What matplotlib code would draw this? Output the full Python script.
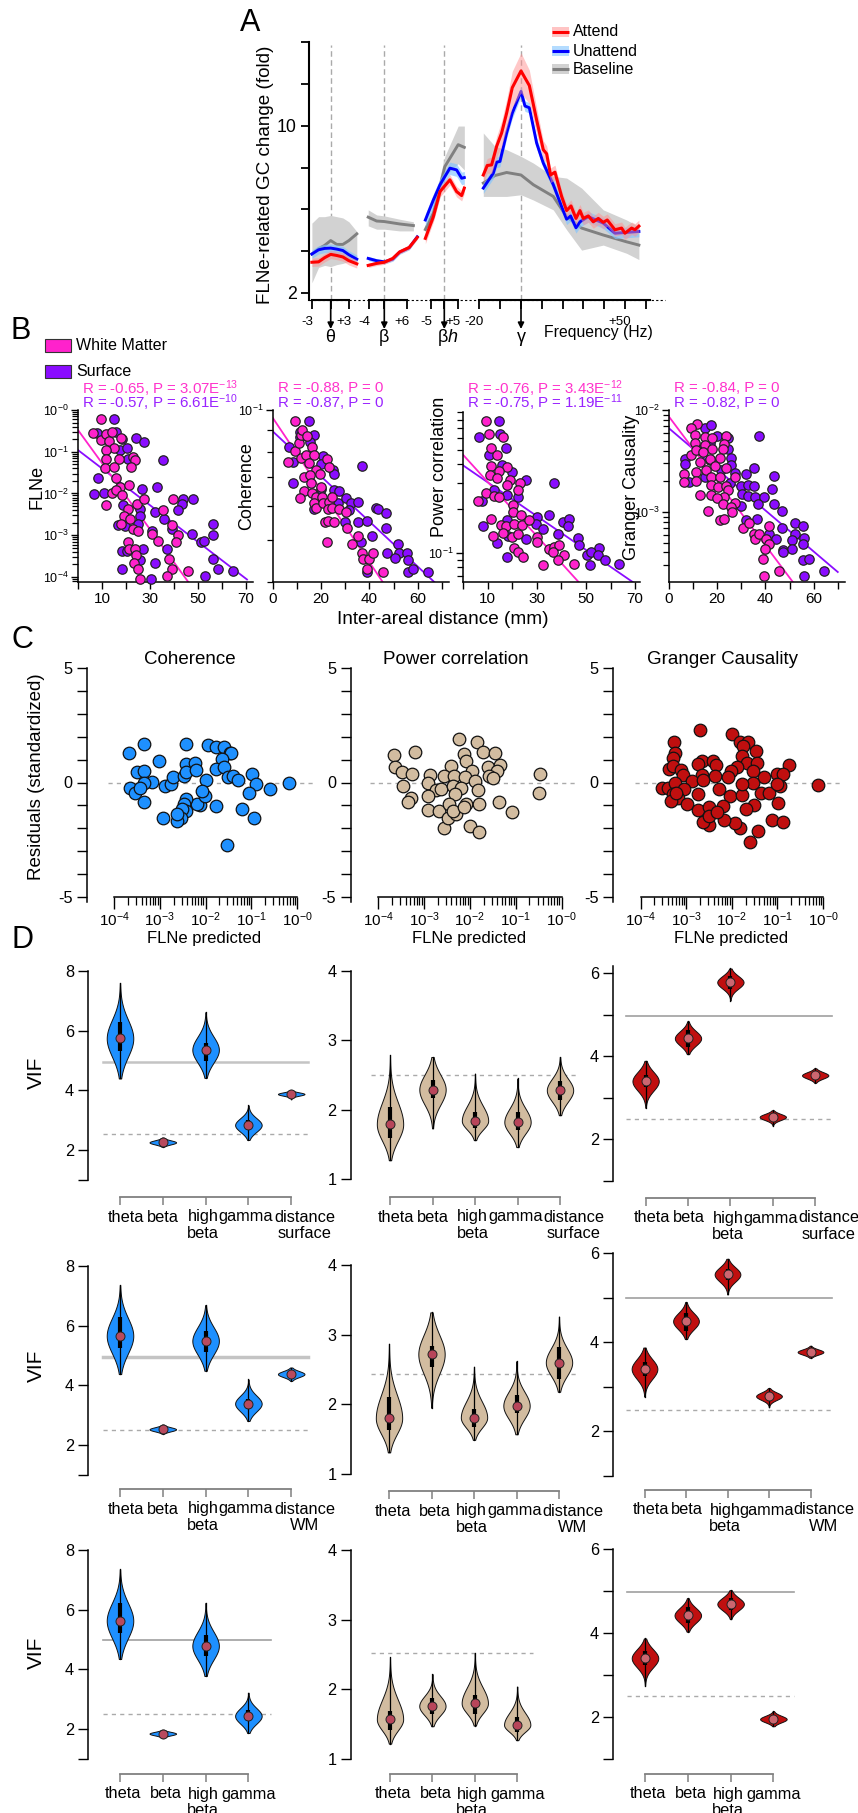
import numpy as np
import matplotlib
matplotlib.use('Agg')
import matplotlib.pyplot as plt
from matplotlib.patches import Rectangle
from matplotlib.transforms import ScaledTranslation

plt.rcParams['font.family'] = ['Liberation Sans', 'DejaVu Sans']
plt.rcParams['mathtext.fontset'] = 'custom'
plt.rcParams['mathtext.rm'] = 'Liberation Sans'
plt.rcParams['mathtext.it'] = 'Liberation Sans:italic'
plt.rcParams['mathtext.bf'] = 'Liberation Sans:bold'
plt.rcParams['mathtext.default'] = 'regular'

W, H = 858, 1813
DPI = 100
PT = 72 / DPI

# ---------- Panel A data ----------
theta_hz = [-3.1, -2, -1, 0, 1, 2, 3, 4.3]
theta_att = [2.68, 2.69, 2.80, 2.89, 2.86, 2.82, 2.72, 2.64]
theta_una = [2.90, 3.02, 3.06, 3.07, 3.04, 3.00, 2.88, 2.76]
theta_base = [2.90, 3.05, 3.15, 3.30, 3.18, 3.18, 3.30, 3.52]
theta_base_lo = [2.20, 2.55, 2.60, 2.57, 2.62, 2.65, 2.70, 2.75]
theta_base_hi = [3.90, 4.15, 4.15, 4.20, 4.15, 4.10, 3.95, 3.60]

beta_hz = [-4.2, -2, 0, 2.2, 4, 6.5, 8.6]
beta_att = [2.60, 2.65, 2.68, 2.78, 2.96, 3.09, 3.40]
beta_una = [2.78, 2.72, 2.69, 2.76, 2.95, 3.08, 3.42]
beta_base_hz = [-4.2, -2, 0, 4, 7.6]
beta_base = [4.13, 3.98, 3.96, 3.87, 3.81]
beta_base_lo = [3.80, 3.68, 3.68, 3.62, 3.62]
beta_base_hi = [4.43, 4.22, 4.18, 4.05, 3.95]

bh_hz = [-7.1, -4.1, -1.6, 2.1, 4.6, 6.5, 7.5]
bh_att = [3.37, 4.15, 5.28, 5.91, 5.28, 5.08, 5.46]
bh_una = [4.02, 4.87, 5.64, 6.61, 6.50, 6.00, 6.04]
bh_base_hz = [-7.1, -4.1, -1.6, 0.2, 5.2, 7.5]
bh_base = [3.67, 4.29, 5.54, 6.71, 8.28, 8.07]
bh_base_lo = [3.50, 4.00, 5.00, 6.10, 6.90, 6.50]
bh_base_hi = [3.85, 4.60, 6.10, 7.40, 9.90, 9.90]

gam_att_hz = [-18.1, -16.2, -14.1, -11.7, -9.3, -6.9, -4.2, 0, 4, 7.5, 10.7, 12.3, 14.2, 16.3, 19.5, 21.9,
              24, 26.4, 28.3, 29.9, 32.3, 34.7, 37.1, 39.5, 41.4, 45.1, 48.3, 49.9, 53.1, 54.7, 56.6]
gam_att = [6.19, 6.78, 6.82, 8.15, 9.26, 11.2, 14.3, 16.8, 14.6, 10.5, 7.89, 7.59, 6.19, 6.36, 5.04, 4.40,
           4.60, 4.08, 4.40, 4.08, 4.18, 3.95, 4.08, 3.93, 4.02, 3.66, 3.72, 3.54, 3.72, 3.66, 3.79]
gam_att_err = [.07, .07, .08, .10, .12, .14, .17, .19, .16, .12, .09, .08, .07, .07, .06, .06,
               .06, .06, .06, .06, .06, .06, .06, .06, .06, .06, .06, .06, .06, .06, .06]
gam_una_hz = [-18.1, -13.3, -11.7, -10.1, -6.9, -4.2, 0, 1.9, 4, 7.5, 10.7, 15.5, 19.5, 21.9, 23.8, 26.4,
              28.3, 32.3, 39.5, 45.1, 56.6]
gam_una = [5.46, 6.30, 7.00, 7.05, 9.26, 11.2, 13.8, 12.0, 11.8, 8.41, 6.94, 5.64, 4.57, 4.05, 4.18, 3.73,
           3.95, 4.15, 3.90, 3.54, 3.60]
gam_base_hz = [-18.1, -12.5, -6.9, 0, 5.9, 15.5, 21.9, 29.1, 39.5, 50.7, 56.6]
gam_base = [5.73, 6.16, 6.34, 6.19, 5.64, 5.04, 4.15, 3.72, 3.48, 3.26, 3.16]
gam_base_hi = [9.26, 8.15, 7.89, 7.40, 6.94, 6.11, 6.01, 5.46, 4.43, 4.02, 3.77]
gam_base_lo = [5.04, 5.04, 5.04, 5.12, 4.87, 4.43, 3.66, 3.01, 3.16, 2.92, 2.75]

# ---------- Panel B data ----------
wm_flne_x = [9.6, 6.1, 9.6, 11.7, 13, 14, 17.8, 15, 11.7, 11.7, 11.4, 17.2, 15.1, 22.8, 23.6, 22.1, 15.8, 17.5, 21.1, 14,
             16, 18.5, 11.5, 24.7, 27.5, 21, 19.3, 21.7, 17.8, 23, 25.1, 35.6, 39.7, 39.4, 41.8, 40.7, 31, 33.2, 21, 21.1,
             23.8, 24.2, 23.3, 25.1, 37.9, 39.3, 37.2, 46, 26]
wm_flne_y = [-.22, -.56, -.72, -.58, -.74, -.52, -.68, -.9, -.96, -1.18, -1.38, -1.18, -1.36, -1.12, -1.2, -1.36, -1.62, -1.84, -1.8, -1.98,
             -1.92, -2.04, -2.28, -2.24, -2.14, -2.36, -2.53, -2.6, -2.74, -2.86, -2.9, -2.4, -2.14, -2.75, -3.0, -3.16, -2.98, -3.14, -3.16, -3.34,
             -3.34, -3.48, -3.66, -3.8, -3.58, -3.82, -3.98, -3.86, -4.04]
sf_flne_x = [15.1, 8, 15.8, 18.2, 17.5, 20.3, 24.4, 27.5, 21, 35.6, 8.5, 6.7, 11, 26.7, 32.9, 43.9, 43.2, 47.8, 41.7, 32.1,
             36, 18.6, 25.8, 25.8, 25.1, 19.6, 16.8, 39.4, 30.7, 47.4, 56.5, 56.4, 51.2, 52.6, 37.2, 27.2, 18.2, 20.3, 32.2, 25.8,
             18.2, 56.5, 58.6, 52.8, 64.6, 30.3]
sf_flne_y = [-.22, -.54, -.52, -.7, -.96, -.9, -.67, -.77, -1.18, -1.2, -1.62, -2.02, -1.98, -1.9, -1.84, -2.14, -2.25, -2.14, -2.4, -2.44,
             -2.6, -2.28, -2.36, -2.53, -2.72, -2.77, -2.76, -2.86, -2.9, -2.98, -2.74, -3, -3.16, -3.14, -3.34, -3.34, -3.38, -3.38, -3.66, -3.6,
             -3.8, -3.58, -3.82, -3.98, -3.86, -4.04]
flne_line_x = [[0, 46], [0, 70.5]]
flne_line_y = [[-.48, -4.12], [-.96, -4.06]]

wm_coh_x = [9.2, 6.1, 9.0, 10.6, 11.7, 12.1, 14.1, 16.3, 11.7, 13.8, 16.8, 14.8, 22.5, 23.4, 17.9, 19.3, 12.8, 15.2, 15.6, 12.7,
            11.4, 16.1, 20, 17.9, 20.3, 17.2, 17.7, 20.7, 23.4, 24.4, 22.8, 24.4, 27.2, 30.3, 21.4, 23, 25.5, 30.8, 22.5, 32.8,
            35.2, 37, 37.2, 40, 41.4, 38.9, 45.5]
wm_coh_y = [-1.026, -1.121, -1.094, -1.077, -1.058, -1.046, -1.060, -1.085, -1.112, -1.104, -1.104, -1.122, -1.114, -1.131, -1.138, -1.147,
            -1.155, -1.151, -1.170, -1.187, -1.203, -1.193, -1.178, -1.201, -1.201, -1.216, -1.226, -1.216, -1.213, -1.202, -1.230, -1.226,
            -1.230, -1.237, -1.258, -1.257, -1.260, -1.274, -1.305, -1.309, -1.292, -1.330, -1.345, -1.344, -1.330, -1.369, -1.375]
sf_coh_x = [14.8, 6.5, 17.2, 11, 11, 15.2, 8.3, 20.7, 20, 24.8, 25.5, 37, 8.3, 20, 25.2, 27.3, 26.9, 30.3, 32.4, 35.2,
            31.7, 17.2, 42.8, 43.4, 46.9, 29.9, 35.4, 39, 46.9, 41, 36.6, 52, 47.3, 52.1, 55.6, 50.8, 56, 38.9, 55.9, 58.2, 64.1]
sf_coh_y = [-1.026, -1.085, -1.058, -1.063, -1.050, -1.075, -1.121, -1.107, -1.124, -1.139, -1.147, -1.130, -1.170, -1.182, -1.185, -1.188,
            -1.216, -1.203, -1.216, -1.214, -1.232, -1.228, -1.226, -1.230, -1.238, -1.260, -1.258, -1.257, -1.274, -1.292, -1.305, -1.309,
            -1.332, -1.330, -1.330, -1.342, -1.346, -1.375, -1.375, -1.369, -1.375]
coh_line_x = [[0, 45.5], [0, 66.9]]
coh_line_y = [[-1.019, -1.398], [-1.05, -1.398]]

wm_pow_x = [9.3, 10.6, 16.3, 11.3, 13.9, 11.3, 18, 14.7, 10.9, 13.9, 19, 17.7, 23.1, 22.2, 9.3, 6.1, 12.7, 14.7, 20.4, 20.4,
            23.4, 11.3, 15.4, 17.4, 20.8, 24.2, 26.9, 16.1, 12.4, 20.1, 22.4, 30.2, 29.9, 20.8, 22.2, 24.5, 32.7, 35.1, 37.1, 39.2,
            36.7, 41, 38.8, 45.2]
wm_pow_y = [-.106, -.195, -.213, -.285, -.333, -.409, -.416, -.446, -.473, -.489, -.507, -.536, -.525, -.570, -.590, -.647, -.613, -.620, -.676, -.722,
            -.740, -.771, -.812, -.817, -.805, -.812, -.774, -.862, -.887, -.891, -.869, -.891, -.925, -.966, -.993, -1.027, -1.079, -.971, -.959, -.943,
            -.995, -1.011, -1.050, -1.077]
sf_pow_x = [14.7, 6.4, 15, 17.3, 10.6, 15.9, 20, 25.6, 12.5, 18, 22.2, 36.9, 7.9, 8.2, 18, 30.2, 35.1, 40.8, 43.3, 42.6,
            29.5, 32.4, 38.8, 46.7, 47.1, 18.2, 25.6, 14, 18, 35.4, 55.5, 50.3, 52, 55.1, 51.7, 57.8, 63.5]
sf_pow_y = [-.106, -.215, -.195, -.285, -.337, -.405, -.450, -.502, -.570, -.609, -.620, -.525, -.647, -.814, -.774, -.756, -.740, -.790, -.771, -.819,
            -.805, -.835, -.869, -.896, -.943, -.887, -.907, -.930, -1.027, -.971, -.964, -1.011, -.993, -1.011, -1.081, -1.050, -1.075]
pow_line_x = [[0, 47], [0, 69]]
pow_line_y = [[-.333, -1.197], [-.405, -1.197]]

wm_gc_x = [11.6, 9.3, 10.9, 14.8, 17.8, 23.5, 10.6, 14.8, 22.7, 17.8, 22.4, 9.3, 11.3, 14.1, 21, 17.1, 12.7, 18.9, 15.2, 23.5,
           6.2, 11.3, 6.2, 11.3, 17.6, 21, 27.2, 17.6, 20.3, 23.5, 24.5, 12.7, 17.6, 22.7, 20, 27.2, 22.4, 25.8, 26, 16.2,
           21.3, 22.7, 30.7, 33.2, 35.2, 35.5, 37.2, 41.3, 40.4, 41.3, 39.7, 39, 45.6, 39.4]
wm_gc_y = [-2.141, -2.18, -2.246, -2.262, -2.279, -2.256, -2.328, -2.344, -2.334, -2.387, -2.387, -2.443, -2.393, -2.41, -2.469, -2.485,
           -2.508, -2.548, -2.59, -2.567, -2.63, -2.607, -2.711, -2.695, -2.656, -2.662, -2.656, -2.738, -2.754, -2.748, -2.787, -2.836,
           -2.836, -2.852, -2.859, -2.911, -2.925, -2.951, -3.0, -2.993, -3.082, -3.072, -3.157, -3.105, -3.213, -3.269, -3.213, -3.134,
           -3.269, -3.311, -3.361, -3.466, -3.58, -3.63]
sf_gc_x = [14.8, 17.3, 20, 24.5, 24.5, 6.5, 6.5, 8.3, 37.2, 25.6, 25.8, 27.2, 35.2, 32.1, 43.5, 30, 32.8, 35.2, 30.4, 32.8,
           35.5, 39.3, 42.8, 43.5, 36.9, 30, 47, 36.6, 31.8, 52.1, 55.6, 47, 41.3, 52.4, 56, 51, 44.2, 55.6, 47.3, 51,
           47.3, 55.6, 58, 64.1, 56, 16.9, 12.7, 16.9, 21.7, 14.8, 25.2]
sf_gc_y = [-2.174, -2.148, -2.252, -2.279, -2.384, -2.485, -2.534, -2.705, -2.256, -2.475, -2.541, -2.623, -2.567, -2.63, -2.649, -2.744,
           -2.738, -2.748, -2.826, -2.846, -2.852, -2.852, -2.777, -2.918, -2.925, -2.944, -2.993, -3.066, -3.075, -3.108, -3.134, -3.157,
           -3.213, -3.213, -3.256, -3.272, -3.262, -3.311, -3.37, -3.361, -3.397, -3.469, -3.462, -3.58, -3.63, -2.328, -2.393, -2.492,
           -2.59, -2.656, -2.721]
gc_line_x = [[0, 51.4], [0, 70]]
gc_line_y = [[-2.066, -3.689], [-2.18, -3.59]]

r_texts = [('R = -0.65, P = 3.07E$^{-13}$', 'R = -0.57, P = 6.61E$^{-10}$'),
           ('R = -0.88, P = 0', 'R = -0.87, P = 0'),
           ('R = -0.76, P = 3.43E$^{-12}$', 'R = -0.75, P = 1.19E$^{-11}$'),
           ('R = -0.84, P = 0', 'R = -0.82, P = 0')]

# ---------- Panel C data ----------
res_coh_x = [-3.67, -3.35, -3.01, -2.43, -1.95, -1.77, -1.59, -1.47, -1.45, -1.65, -3.49, -3.35, -3.16, -3.35, -3.65, -3.55, -3.43, -3.35,
             -2.89, -2.75, -2.70, -2.47, -2.43, -2.43, -2.23, -2.20, -1.78, -1.60, -1.99, -1.51, -1.39, -1.29, -0.99, -0.90, -0.60, -0.18,
             -1.06, -1.20, -0.93, -1.53, -1.77, -2.11, -2.19, -2.02, -2.07, -2.43, -2.46, -2.43, -2.51, -2.53, -2.63, -2.92, -2.63]
res_coh_y = [1.31, 1.70, .92, 1.70, 1.64, 1.53, 1.53, 1.27, 1.31, 1.02, .47, .51, .03, -.03, -.22, -.48, -.22, -.86,
             -.15, -.07, .22, .29, .80, .48, .87, .55, .61, .66, .12, .22, .29, .12, .39, -.07, -.29, -.03,
             -.45, -1.14, -1.53, -2.75, -1.03, -.99, -.95, -.58, -.36, -.73, -.95, -1.24, -1.16, -1.53, -1.67, -1.57, -1.38]
res_pow_x = [-3.66, -3.19, -2.23, -1.84, -1.72, -1.46, -2.12, -2.08, -3.62, -3.47, -3.26, -2.40, -1.96, -1.60, -1.34, -1.40, -1.58, -1.50,
             -2.86, -2.57, -2.34, -2.10, -1.88, -.47, -.50, -3.46, -2.92, -2.73, -2.62, -2.36, -2.20, -1.82, -2.92, -2.32, -3.29, -3.35,
             -2.90, -2.68, -2.46, -2.08, -1.80, -1.37, -1.08, -2.56, -2.48, -2.30, -2.0, -1.80, -2.36, -2.12]
res_pow_y = [1.21, 1.35, 1.92, 1.78, 1.35, 1.28, 1.24, .95, .66, .48, .39, .73, .51, .66, .77, .51, .29, .19,
             .32, .28, .29, .22, .07, .38, -.47, -.17, -.04, -.33, -.29, -.15, -.22, -.32, -.58, -.51, -.68, -.84,
             -1.21, -1.24, -.92, -.92, -.95, -.84, -1.27, -1.99, -1.53, -1.38, -1.91, -2.17, -1.24, -1.05]
res_gc_x = [-2.69, -2.0, -3.27, -1.81, -1.64, -1.75, -1.47, -3.25, -3.29, -1.78, -2.66, -2.41, -2.35, -2.75, -1.66, -1.45, -1.88, -2.02,
            -3.37, -3.29, -3.11, -3.07, -.75, -1.0, -.88, -2.66, -2.87, -2.36, -2.08, -1.30, -1.54, -3.53, -3.41, -3.25, -3.05, -2.63,
            -2.27, -1.54, -1.36, -1.18, -.94, -1.0, -.12, -3.29, -3.17, -3.33, -2.99, -2.75, -2.05, -1.78, -1.52, -1.69, -.98, -1.12,
            -.88, -1.42, -1.60, -1.81, -1.93, -2.18, -2.51, -2.63, -2.75, -2.51, -2.2, -2.51, -2.33, -1.78, -3.23]
res_gc_y = [2.29, 2.11, 1.78, 1.75, 1.78, 1.60, 1.38, 1.31, 1.06, 1.16, .95, .95, .77, .80, .87, .87, .66, .51,
            .61, .73, .54, .33, .77, .36, .39, .33, .07, .29, .22, .25, .51, -.22, -.22, -.04, -.29, .10,
            -.29, -.04, -.44, -.44, -.17, -.07, -.12, -.51, -.66, -.80, -.95, -.51, -.58, -.54, -.98, -1.16, -.90, -1.63,
            -1.73, -2.13, -2.61, -1.99, -1.78, -1.63, -1.85, -1.72, -1.19, -1.09, -1.02, -1.46, -1.31, -.07, -.44]

# ---------- Panel D data (median, low, high, q1, q3) ----------
vif_blue_sf = [[5.74, 4.4, 7.6, 5.33, 6.3], [2.26, 2.11, 2.42, 2.22, 2.30], [5.36, 4.42, 6.62, 4.98, 5.6], [2.84, 2.34, 3.5, 2.67, 3.0], [3.88, 3.7, 4.0, 3.84, 3.92]]
vif_tan_sf = [[1.79, 1.27, 2.79, 1.59, 2.04], [2.29, 1.73, 2.76, 2.17, 2.43], [1.84, 1.56, 2.52, 1.73, 1.97], [1.82, 1.46, 2.45, 1.71, 1.96], [2.28, 1.92, 2.76, 2.14, 2.42]]
vif_red_sf = [[3.40, 2.76, 3.89, 3.25, 3.56], [4.43, 4.05, 4.84, 4.23, 4.63], [5.78, 5.34, 6.11, 5.62, 5.94], [2.54, 2.33, 2.70, 2.48, 2.60], [3.54, 3.36, 3.71, 3.48, 3.60]]
vif_blue_wm = [[5.66, 4.38, 7.36, 5.27, 6.28], [2.53, 2.38, 2.69, 2.48, 2.58], [5.49, 4.49, 6.69, 5.13, 5.82], [3.39, 2.81, 4.2, 3.22, 3.56], [4.38, 4.15, 4.6, 4.32, 4.44]]
vif_tan_wm = [[1.80, 1.31, 2.87, 1.63, 2.10], [2.72, 1.95, 3.32, 2.53, 2.84], [1.81, 1.49, 2.54, 1.67, 1.94], [1.98, 1.57, 2.62, 1.87, 2.14], [2.60, 2.18, 3.26, 2.37, 2.82]]
vif_red_wm = [[3.40, 2.78, 3.88, 3.25, 3.55], [4.47, 4.07, 4.9, 4.26, 4.65], [5.52, 5.07, 5.87, 5.39, 5.65], [2.79, 2.54, 2.97, 2.72, 2.86], [3.78, 3.65, 3.92, 3.72, 3.84]]
vif_blue_no = [[5.63, 4.35, 7.35, 5.23, 6.24], [1.85, 1.71, 1.98, 1.80, 1.90], [4.79, 3.78, 6.23, 4.45, 5.15], [2.44, 1.87, 3.22, 2.26, 2.63]]
vif_tan_no = [[1.57, 1.22, 2.46, 1.42, 1.69], [1.76, 1.47, 2.22, 1.65, 1.87], [1.80, 1.48, 2.52, 1.65, 1.92], [1.49, 1.27, 2.04, 1.39, 1.60]]
vif_red_no = [[3.40, 2.74, 3.87, 3.24, 3.56], [4.42, 4.03, 4.83, 4.23, 4.61], [4.69, 4.33, 5.02, 4.54, 4.83], [1.95, 1.78, 2.14, 1.90, 2.00]]

labels_sf = ['theta', 'beta', 'high\nbeta', 'gamma', 'distance\nsurface']
labels_wm = ['theta', 'beta', 'high\nbeta', 'gamma', 'distance\nWM']
labels_no = ['theta', 'beta', 'high\nbeta', 'gamma']

# ---------- colours ----------
C_RED, C_BLUE, C_GREY = '#ff0000', '#0000ff', '#808080'
C_WM, C_SF = '#ff22cc', '#8a0cff'
C_VB, C_VT, C_VR = '#1e90ff', '#d2bca0', '#c00f0f'

fig = plt.figure(figsize=(W / DPI, H / DPI), dpi=DPI)


def axpx(l, t, r, b):
    ax = fig.add_axes([l / W, 1 - b / H, (r - l) / W, (b - t) / H])
    ax.patch.set_alpha(0)
    for s in ('top', 'right'):
        ax.spines[s].set_visible(False)
    return ax


ov = fig.add_axes([0, 0, 1, 1], zorder=50)
ov.set_xlim(0, W)
ov.set_ylim(H, 0)
ov.axis('off')
ov.patch.set_alpha(0)


def ovt(x, y, s, size, **kw):
    kw.setdefault('ha', 'center')
    kw.setdefault('va', 'center')
    ov.text(x, y, s, fontsize=size, **kw)


for let, x, y in [('A', 250, 23), ('B', 21, 331), ('C', 22, 640), ('D', 22, 940)]:
    ovt(x, y, let, 22)

# ========== Panel A ==========
AT, AB = 42, 300
AYLIM = (10 ** (1 - 175 / 240), 10 ** (1 + 83 / 240))
base = axpx(309, AT, 655, AB)
base.set_yscale('log')
base.set_ylim(*AYLIM)
base.set_xticks([])
base.spines['bottom'].set_visible(False)
base.spines['left'].set_linewidth(1.5)
base.set_yticks([2, 2.99, 4.47, 6.68, 10, 14.96, 22.4], ['2', '', '', '', '10', '', ''], fontsize=12.8)
base.set_yticks([], minor=True)
base.tick_params(axis='y', length=5.5, width=1.3, pad=3.5)


def seg(l, r, zero, pphz, ticks, tlabels, bounds):
    ax = axpx(l, AT, r, AB)
    ax.set_yscale('log')
    ax.set_ylim(*AYLIM)
    ax.set_yticks([])
    ax.set_yticks([], minor=True)
    ax.spines['left'].set_visible(False)
    ax.set_xlim((l - zero) / pphz, (r - zero) / pphz)
    ax.spines['bottom'].set_bounds(*bounds)
    ax.spines['bottom'].set_linewidth(1.5)
    ax.set_xticks(ticks, tlabels, fontsize=9.6)
    ax.tick_params(axis='x', length=6.5, width=1.3, pad=5)
    off = ScaledTranslation(-5 / DPI, 0, fig.dpi_scale_trans)
    for lab in ax.get_xticklabels():
        lab.set_transform(lab.get_transform() + off)
    ax.axvline(0, color='#aaaaaa', lw=1, ls=(0, (4, 2.5)), ymax=0.99, zorder=1)
    return ax


def curves(ax, bx, by, blo, bhi, ax_, ay, aerr, ux, uy, uerr):
    ax.fill_between(bx, blo, bhi, color='#d2d2d2', lw=0, zorder=2)
    ax.plot(bx, by, color=C_GREY, lw=2.1, zorder=3)
    uy = np.array(uy)
    ay = np.array(ay)
    ax.fill_between(ux, uy * (1 - uerr), uy * (1 + uerr), color='#80c4ff', alpha=.65, lw=0, zorder=4)
    ax.plot(ux, uy, color=C_BLUE, lw=2.1, zorder=5)
    ax.fill_between(ax_, ay * (1 - np.array(aerr)), ay * (1 + np.array(aerr)), color='#ff9090', alpha=.5, lw=0, zorder=6)
    ax.plot(ax_, ay, color=C_RED, lw=2.2, zorder=7)


a1 = seg(308, 361, 330.7, 6.07, [-3, 0, 3], ['-3', '', '+3'], (-3, 3))
curves(a1, theta_hz, theta_base, theta_base_lo, theta_base_hi, theta_hz, theta_att, .04, theta_hz, theta_una, .04)
a2 = seg(364, 420, 384.3, 3.83, [-4, 0, 6], ['-4', '', '+6'], (-4, 6))
curves(a2, beta_base_hz, beta_base, beta_base_lo, beta_base_hi, beta_hz, beta_att, .02, beta_hz, beta_una, .02)
a3 = seg(422, 466, 444.3, 2.67, [-5, 0, 5], ['-5', '', '+5'], (-5, 5))
curves(a3, bh_base_hz, bh_base, bh_base_lo, bh_base_hi, bh_hz, bh_att, .05, bh_hz, bh_una, .06)
a4 = seg(476, 652, 521, 2.083, list(range(-20, 61, 10)), ['-20', '', '', '', '', '', '', '+50', ''], (-20, 62))
curves(a4, gam_base_hz, gam_base, gam_base_lo, gam_base_hi, gam_att_hz, gam_att, gam_att_err, gam_una_hz, gam_una, .05)

ov.plot([309, 665], [300, 300], color='k', lw=0.8, ls=(0, (2, 2)), zorder=0)
for x, s, tx in [(330.7, 'θ', 330), (384.3, 'β', 384), (444.3, 'β$\\mathit{h}$', 448), (521, 'γ', 521)]:
    ov.annotate('', xy=(x, 329), xytext=(x, 300),
                arrowprops=dict(arrowstyle='-|>', color='k', lw=1.2, mutation_scale=9, shrinkA=0, shrinkB=0))
    ovt(tx, 337, s, 13)
ovt(598, 333, 'Frequency (Hz)', 11.3)
ovt(266, 175, 'FLNe-related GC change (fold)', 13.6, rotation=90)

for yy, lab, col, bcol in [(32, 'Attend', C_RED, '#ffc4c4'), (51, 'Unattend', C_BLUE, '#b4dcff'), (69, 'Baseline', C_GREY, '#d2d2d2')]:
    ov.add_patch(Rectangle((552, yy - 5), 17, 10, color=bcol, lw=0))
    ov.plot([552, 569], [yy, yy], color=col, lw=2.2, solid_capstyle='butt')
    ovt(573, yy, lab, 11.5, ha='left')

# ========== Panel B ==========
ov.add_patch(Rectangle((45, 339), 26, 13, fc=C_WM, ec='#333333', lw=0.8))
ov.add_patch(Rectangle((45, 365), 26, 12.5, fc=C_SF, ec='#333333', lw=0.8))
ovt(76, 345.5, 'White Matter', 11.5, ha='left')
ovt(76, 371, 'Surface', 11.5, ha='left')


def scat_panel(l, r, t, xlim, ylim, wx, wy, sx, sy, lx, ly, xt, xl, yt, yl, ym):
    ax = axpx(l, t, r, 582)
    ax.set_yscale('log')
    ax.set_xlim(*xlim)
    ax.set_ylim(*ylim)
    ax.plot(lx[1], 10 ** np.array(ly[1]), color=C_SF, lw=1.3, zorder=2)
    ax.plot(lx[0], 10 ** np.array(ly[0]), color=C_WM, lw=1.3, zorder=2)
    ax.scatter(sx, 10 ** np.array(sy), s=46, c=C_SF, edgecolors='#222222', linewidths=0.9, zorder=3, clip_on=False)
    ax.scatter(wx, 10 ** np.array(wy), s=46, c=C_WM, edgecolors='#222222', linewidths=0.9, zorder=4, clip_on=False)
    ax.set_xticks(xt, xl, fontsize=11)
    ax.set_yticks(yt, yl, fontsize=9)
    ax.set_yticks(ym, [''] * len(ym), minor=True)
    ax.tick_params(axis='both', which='major', length=5, width=1, pad=2)
    ax.tick_params(axis='y', which='minor', length=4, width=0.9)
    for s in ('left', 'bottom'):
        ax.spines[s].set_linewidth(1.1)
    return ax


def minors(a, b):
    return [k * 10.0 ** e for e in range(a, b) for k in range(2, 10)]


tick10 = list(range(0, 71, 10))
lab_odd = ['', '10', '', '30', '', '50', '', '70']
lab_even = ['0', '', '20', '', '40', '', '60', '']

scat_panel(78, 253, 410, (0, 73), (10 ** -4.12, 1), wm_flne_x, wm_flne_y, sf_flne_x, sf_flne_y, flne_line_x, flne_line_y,
           tick10, lab_odd, [1, 1e-1, 1e-2, 1e-3, 1e-4],
           ['$10^{-0}$', '$10^{-1}$', '$10^{-2}$', '$10^{-3}$', '$10^{-4}$'], [m for m in minors(-5, 0) if 10 ** -4.12 <= m])
scat_panel(273, 449, 410, (0, 73), (0.04, 0.1), wm_coh_x, wm_coh_y, sf_coh_x, sf_coh_y, coh_line_x, coh_line_y,
           tick10, lab_even, [0.1], ['$10^{-1}$'], [0.04, 0.05, 0.06, 0.07, 0.08, 0.09])
scat_panel(463, 640, 412, (0, 72), (0.0635, 0.906), wm_pow_x, wm_pow_y, sf_pow_x, sf_pow_y, pow_line_x, pow_line_y,
           tick10, lab_odd, [0.1], ['$10^{-1}$'], [0.07, 0.08, 0.09, 0.2, 0.3, 0.4, 0.5, 0.6, 0.7, 0.8, 0.9])
scat_panel(669, 845, 410, (0, 73), (10 ** -3.688, 0.01), wm_gc_x, wm_gc_y, sf_gc_x, sf_gc_y, gc_line_x, gc_line_y,
           tick10, lab_even, [0.01, 0.001], ['$10^{-2}$', '$10^{-3}$'], [3e-4, 4e-4, 5e-4, 6e-4, 7e-4, 8e-4, 9e-4] + [k * 1e-3 for k in range(2, 10)])

for x, (a, b) in zip([82, 278, 467, 674], r_texts):
    ovt(x, 388.5, a, 10.8, ha='left', color='#ff33cc')
    ovt(x, 403, b, 10.8, ha='left', color='#9922ff')

ovt(37, 487, 'FLNe', 13, rotation=90)
ovt(247, 486, 'Coherence', 13, rotation=90)
ovt(439, 467, 'Power correlation', 13, rotation=90)
ovt(632, 487, 'Granger Causality', 13, rotation=90)
ovt(442.5, 620, 'Inter-areal distance (mm)', 13.7)

# ========== Panel C ==========
for l, x0, x1, d0, d1, title, tx, xs, ys, col in [
    (87, 114, 297, 108, 314, 'Coherence', 190, res_coh_x, res_coh_y, C_VB),
    (350.5, 378, 561.5, 370, 577, 'Power correlation', 456, res_pow_x, res_pow_y, C_VT),
    (613, 640.6, 823, 634.6, 842, 'Granger Causality', 722.5, res_gc_x, res_gc_y, C_VR),
]:
    r = d1 + 2
    ppd = (x1 - x0) / 4
    ax = axpx(l, 668, r, 902)
    ax.set_xscale('log')
    ax.set_xlim(10 ** (-4 + (l - x0) / ppd), 10 ** (-4 + (r - x0) / ppd))
    ax.set_ylim(-5 - 5 * 10 / 229, 5)
    ax.axhline(0, xmin=(d0 - l) / (r - l), xmax=(d1 - l) / (r - l), color='#aaaaaa', lw=1, ls=(0, (3, 3)), zorder=1)
    ax.scatter(10 ** np.array(xs), ys, s=82, c=col, edgecolors='#111111', linewidths=0.9, zorder=3)
    ax.spines['bottom'].set_position(('data', -5))
    ax.spines['bottom'].set_bounds(1e-4, 1)
    ax.spines['left'].set_linewidth(1.1)
    ax.spines['bottom'].set_linewidth(1.1)
    ax.set_yticks(list(range(-5, 6)), ['-5', '', '', '', '', '0', '', '', '', '', '5'], fontsize=11.7)
    ax.set_xticks([1e-4, 1e-3, 1e-2, 1e-1, 1],
                  ['$10^{-4}$', '$10^{-3}$', '$10^{-2}$', '$10^{-1}$', '$10^{-0}$'], fontsize=11)
    mt = minors(-4, 0)
    ax.set_xticks(mt, [''] * len(mt), minor=True)
    ax.tick_params(axis='y', which='major', length=7, width=1, pad=3.5)
    ax.tick_params(axis='x', which='major', length=8.5, width=1, pad=1.5)
    ax.tick_params(axis='x', which='minor', length=6, width=0.9)
    ovt(tx, 659, title, 13.5)
    ovt((x0 + x1) / 2 - 1, 938, 'FLNe predicted', 12)
ovt(37, 777, 'Residuals (standardized)', 13.5, rotation=90)


# ========== Panel D ==========
def violin(ax, i, row, col, mcol, w=0.31):
    med, lo, hi, q1, q3 = row
    yy = np.linspace(lo, hi, 200)
    up, dn = hi - med, med - lo
    ku = min(3.2, 2.2 + 2 * (up / min(up, dn) - 1))
    kd = min(3.2, 2.2 + 2 * (dn / min(up, dn) - 1))
    su, sd = up / ku, dn / kd
    prof = np.where(yy >= med, np.exp(-.5 * ((yy - med) / su) ** 2), np.exp(-.5 * ((yy - med) / sd) ** 2))
    ax.fill_betweenx(yy, i - w * prof, i + w * prof, facecolor=col, edgecolor='#111111', lw=0.7, zorder=3)
    ax.plot([i, i], [lo, hi], color='k', lw=0.9, zorder=4)
    ax.plot([i, i], [q1, q3], color='k', lw=3, solid_capstyle='butt', zorder=5)
    ax.scatter([i], [med], s=42, c=mcol, edgecolors='#222222', linewidths=0.7, zorder=6)


def vif_panel(l, r, top_px, bot_px, ylim, yt, yl, cx0, cdx, rows, labels, col, mcol, axis_px, sol, das, h0, h1, off, slw=1.2):
    ax = axpx(l, top_px, r, bot_px)
    ax.set_ylim(*ylim)
    ax.set_xlim((l - cx0) / cdx, (r - cx0) / cdx)
    scol = '#c4c4c4' if slw > 1.5 else '#a0a0a0'
    for y, ls, lw, c in [(sol, '-', slw, scol), (das, (0, (3, 3)), 1.0, '#aaaaaa')]:
        if y is not None:
            ax.plot([(h0 - cx0) / cdx, (h1 - cx0) / cdx], [y, y], color=c, lw=lw, ls=ls, zorder=1)
    for i, row in enumerate(rows):
        violin(ax, i, row, col, mcol)
    ax.set_yticks(yt, yl, fontsize=11.7)
    ax.tick_params(axis='y', length=7, width=1, pad=3)
    ax.spines['left'].set_linewidth(1.1)
    ax.spines['bottom'].set_position(('outward', (axis_px - bot_px) * PT))
    ax.spines['bottom'].set_bounds(0, len(rows) - 1)
    ax.spines['bottom'].set_color('#808080')
    ax.spines['bottom'].set_linewidth(1.3)
    ax.set_xticks(range(len(rows)), labels, fontsize=11.8, linespacing=1.15)
    ax.tick_params(axis='x', length=6, width=1.1, color='#808080', pad=3)
    for lab, dx in zip(ax.get_xticklabels(), off):
        lab.set_transform(lab.get_transform() + ScaledTranslation(dx / DPI, 0, fig.dpi_scale_trans))
    return ax


off5 = [6, 0.5, -2.5, -2.3, 13.5]
off5b = [3.5, 3, -2.5, -2.3, 13.5]
off4 = [3, 3, -2.5, 0.3]
y1_8 = [1, 2, 4, 6, 8]
y1_8l = ['', '2', '4', '6', '8']
y1_4 = [1, 2, 3, 4]
y1_4l = ['1', '2', '3', '4']
y1_6 = [1, 2, 3, 4, 5, 6]
y1_6l = ['', '2', '', '4', '', '6']

MB, MT, MR = '#b84a5e', '#b8455a', '#cc6670'

# row 1
vif_panel(88, 315, 971, 1180, (1, 8), y1_8, y1_8l, 120, 42.8, vif_blue_sf, labels_sf, C_VB, MB, 1197, 4.96, 2.53, 103, 308, off5, 1.8)
vif_panel(350.5, 585, 971, 1179, (1, 4), y1_4, y1_4l, 390, 42.5, vif_tan_sf, labels_sf, C_VT, MT, 1197, None, 2.5, 371, 578, off5)
vif_panel(613, 845, 966, 1181, (1, 6.17), y1_6, y1_6l, 645.6, 42.4, vif_red_sf, labels_sf, C_VR, MR, 1198, 4.96, 2.48, 626, 832, off5)
# row 2
vif_panel(88, 315, 1266, 1475, (1, 8), y1_8, y1_8l, 120, 42.8, vif_blue_wm, labels_wm, C_VB, MB, 1489, 4.96, 2.5, 103, 308, off5, 2.5)
vif_panel(350.5, 585, 1265, 1474, (1, 4), y1_4, y1_4l, 389, 42.5, vif_tan_wm, labels_wm, C_VT, MT, 1491, None, 2.44, 371, 578, off5b)
vif_panel(613, 845, 1253, 1476, (1, 6), y1_6, y1_6l, 644.5, 41.5, vif_red_wm, labels_wm, C_VR, MR, 1490, 4.98, 2.49, 626, 832, off5)
# row 3
vif_panel(88, 315, 1550, 1759, (1, 8), y1_8, y1_8l, 120, 42.8, vif_blue_no, labels_no, C_VB, MB, 1774, 4.97, 2.52, 103, 271, off4)
vif_panel(350.5, 585, 1550, 1759, (1, 4), y1_4, y1_4l, 390, 42.4, vif_tan_no, labels_no, C_VT, MT, 1774, None, 2.52, 371, 533, off4)
vif_panel(613, 845, 1549, 1759, (1, 6), y1_6, y1_6l, 645, 42.8, vif_red_no, labels_no, C_VR, MR, 1774, 4.97, 2.5, 627, 794, off4)

for y in (1073, 1366, 1653):
    ovt(36, y, 'VIF', 15, rotation=90)

fig.savefig('out.png', dpi=DPI)
